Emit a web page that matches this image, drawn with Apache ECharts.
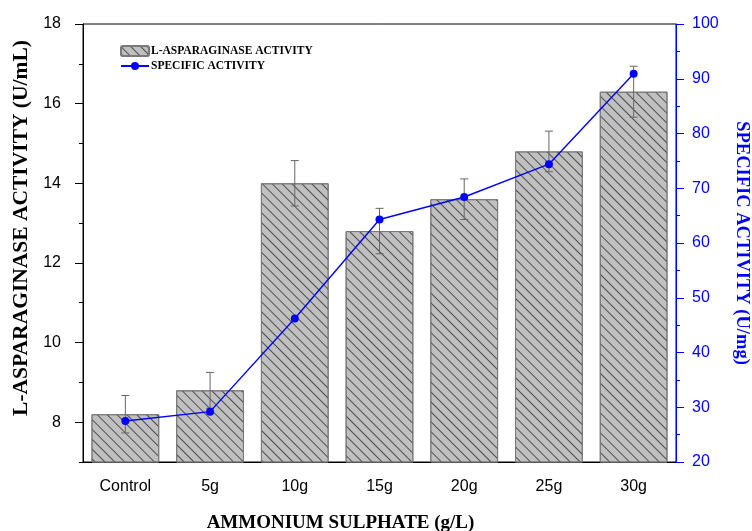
<!DOCTYPE html>
<html>
<head>
<meta charset="utf-8">
<script src="https://cdn.jsdelivr.net/npm/echarts@6/dist/echarts.min.js"></script>
<style>html,body{margin:0;padding:0;background:#fff;}#c{width:752px;height:531px;}</style>
</head>
<body>
<div id="c"></div>
<script>
var categories = ['Control', '5g', '10g', '15g', '20g', '25g', '30g'];
var asparaginaseActivity = [8.2, 8.8, 14.0, 12.8, 13.6, 14.8, 16.3];
var asparaginaseError = [0.47, 0.45, 0.57, 0.57, 0.51, 0.51, 0.64];
var specificActivity = [27.5, 29.2, 46.2, 64.3, 68.4, 74.4, 90.9];
var leftTickLabels = [8, 10, 12, 14, 16, 18];

var errData = categories.map(function (c, i) {
  return [i, asparaginaseActivity[i] - asparaginaseError[i], asparaginaseActivity[i] + asparaginaseError[i]];
});

var chart = echarts.init(document.getElementById('c'));
var sans = 'Liberation Sans, Arial, sans-serif';
var serif = 'Liberation Serif, Times New Roman, serif';
var blue = '#0000ff';

chart.setOption({
  animation: false,
  backgroundColor: '#fff',
  grid: { left: 83, right: 76, top: 24, bottom: 69, show: true, borderColor: '#000', borderWidth: 1,
    containLabel: false, outerBoundsMode: 'none' },
  legend: {
    left: 115, top: 40, orient: 'vertical', itemWidth: 28, itemHeight: 10, itemGap: 3,
    textStyle: { fontFamily: serif, fontWeight: 'bold', fontSize: 11.5, color: '#000', padding: [0,0,0,-3] },
    data: ['L-ASPARAGINASE ACTIVITY', 'SPECIFIC ACTIVITY']
  },
  xAxis: [{
    type: 'category', data: categories, position: 'bottom',
    axisLine: { lineStyle: { color: '#000', width: 1 } },
    axisTick: { alignWithLabel: true, length: 7, lineStyle: { color: '#000' } },
    axisLabel: { color: '#000', fontFamily: sans, fontSize: 16, margin: 17 },
    name: 'AMMONIUM SULPHATE (g/L)', nameLocation: 'middle', nameGap: 52,
    nameTextStyle: { fontFamily: serif, fontWeight: 'bold', fontSize: 19, color: '#000', padding: [0, 78, 0, 0] }
  }, {
    type: 'category', data: categories, position: 'bottom',
    axisLine: { show: false },
    axisTick: { alignWithLabel: false, length: 4, lineStyle: { color: '#000' } },
    axisLabel: { show: false }
  }],
  yAxis: [{
    type: 'value', min: 7, max: 18, interval: 1, position: 'left',
    axisLine: { show: true, lineStyle: { color: '#000' } },
    axisTick: { show: true, length: 4, lineStyle: { color: '#000' } },
    splitLine: { show: false },
    axisLabel: { color: '#000', fontFamily: sans, fontSize: 16, margin: 22,
      formatter: function (v) { return leftTickLabels.indexOf(v) >= 0 ? String(v) : ''; } },
    name: 'L-ASPARAGINASE ACTIVITY (U/mL)', nameLocation: 'middle', nameGap: 50,
    nameTextStyle: { fontFamily: serif, fontWeight: 'bold', fontSize: 21.5, color: '#000', padding: [0, 0, 0, 30] }
  }, {
    type: 'value', min: 20, max: 100, interval: 10, position: 'right',
    axisLine: { show: true, lineStyle: { color: blue } },
    axisTick: { show: true, length: 8, lineStyle: { color: blue } },
    minorTick: { show: true, splitNumber: 2, length: 4, lineStyle: { color: blue } },
    splitLine: { show: false },
    axisLabel: { color: blue, fontFamily: sans, fontSize: 16, margin: 16 },
    name: 'SPECIFIC ACTIVITY (U/mg)', nameLocation: 'middle', nameGap: 56, nameRotate: -90,
    nameTextStyle: { fontFamily: serif, fontWeight: 'bold', fontSize: 18.5, color: blue }
  }, {
    type: 'value', min: 7, max: 18, position: 'left',
    axisLine: { show: false },
    axisTick: { show: true, length: 8, customValues: leftTickLabels, lineStyle: { color: '#000' } },
    axisLabel: { show: false },
    splitLine: { show: false }
  }],
  series: [{
    name: 'L-ASPARAGINASE ACTIVITY', type: 'bar', data: asparaginaseActivity,
    xAxisIndex: 0, yAxisIndex: 0, barWidth: '80%',
    itemStyle: {
      color: '#c0c0c0', borderColor: '#7a7a7a', borderWidth: 1,
      decal: { symbol: 'rect', color: 'rgba(40,40,40,0.75)', dashArrayX: [1, 0], dashArrayY: [1, 5.5], rotation: Math.PI / 4 }
    }
  }, {
    name: 'err', type: 'custom', xAxisIndex: 0, yAxisIndex: 0, data: errData, z: 3,
    renderItem: function (params, api) {
      var x = api.value(0);
      var lo = api.coord([x, api.value(1)]);
      var hi = api.coord([x, api.value(2)]);
      var hw = 4;
      var st = { stroke: '#666', lineWidth: 1 };
      return { type: 'group', children: [
        { type: 'line', shape: { x1: hi[0], y1: hi[1], x2: lo[0], y2: lo[1] }, style: st },
        { type: 'line', shape: { x1: hi[0] - hw, y1: hi[1], x2: hi[0] + hw, y2: hi[1] }, style: st },
        { type: 'line', shape: { x1: lo[0] - hw, y1: lo[1], x2: lo[0] + hw, y2: lo[1] }, style: st }
      ] };
    }
  }, {
    name: 'SPECIFIC ACTIVITY', type: 'line', data: specificActivity,
    xAxisIndex: 0, yAxisIndex: 1, z: 5,
    symbol: 'circle', symbolSize: 8,
    lineStyle: { color: blue, width: 1.4 },
    itemStyle: { color: blue }
  }]
});
</script>
</body>
</html>
